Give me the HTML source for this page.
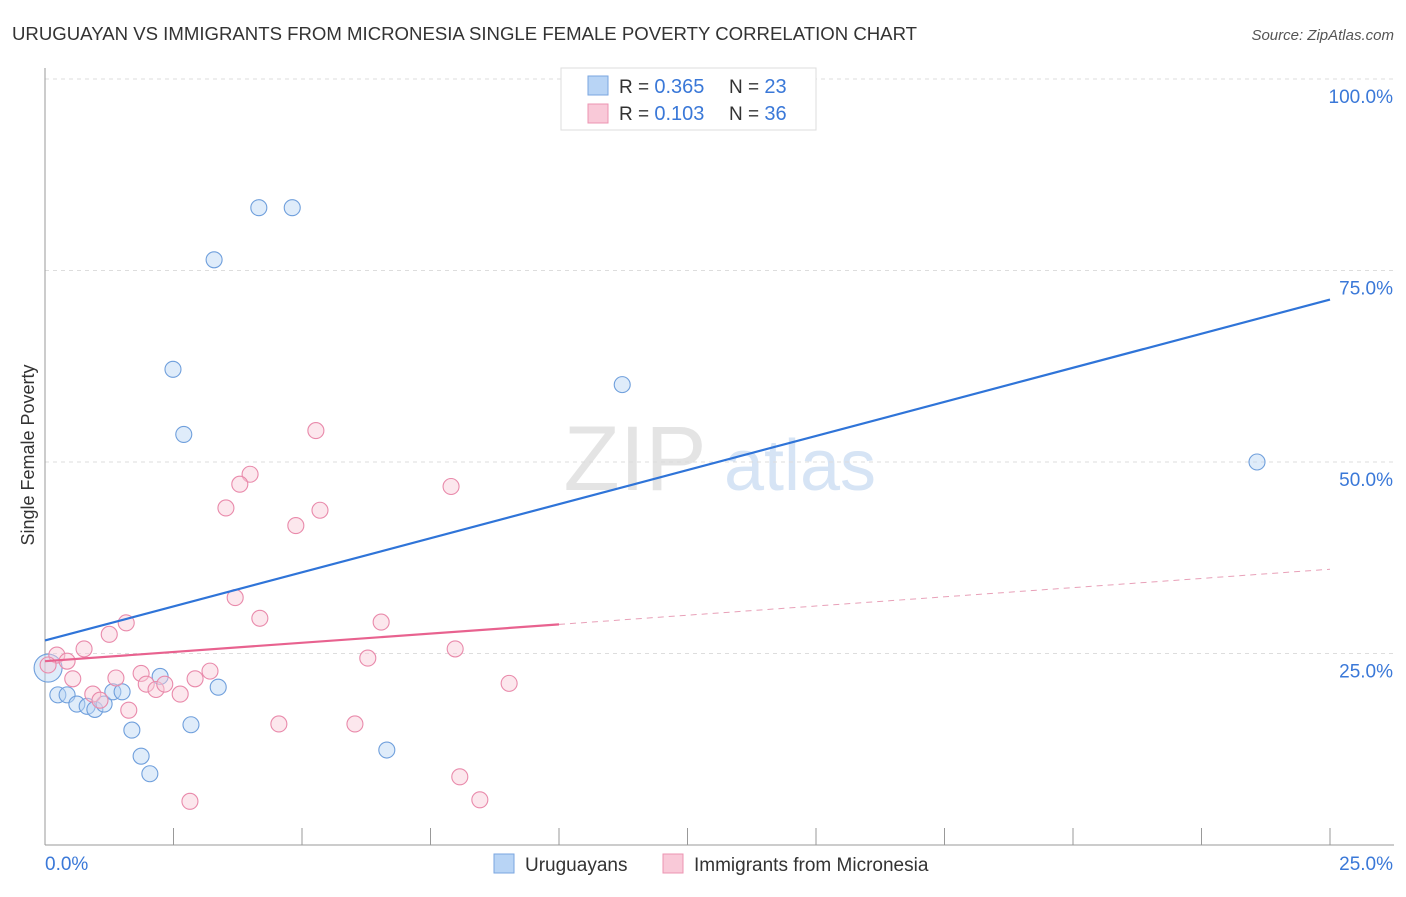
<!DOCTYPE html>
<html><head><meta charset="utf-8"><style>
body{margin:0;background:#fff;font-family:"Liberation Sans",sans-serif;}
svg text{font-family:"Liberation Sans",sans-serif;}
</style></head><body>
<svg id="chart" width="1406" height="892" viewBox="0 0 1406 892">
<text x="12" y="40" font-size="18.6" fill="#333">URUGUAYAN VS IMMIGRANTS FROM MICRONESIA SINGLE FEMALE POVERTY CORRELATION CHART</text>
<text x="1394" y="40" font-size="15" fill="#555" font-style="italic" text-anchor="end">Source: ZipAtlas.com</text>
<text x="34" y="455" font-size="18" fill="#333" transform="rotate(-90 34 455)" text-anchor="middle">Single Female Poverty</text>
<g>
<text x="635" y="490" font-size="92" fill="#e4e4e4" font-family="Liberation Serif" text-anchor="middle">ZIP</text>
<text x="800" y="490" font-size="72" fill="#d6e4f5" text-anchor="middle">atlas</text>
</g>
<g id="grid"></g><g id="axes"></g><g id="marks"></g>
<g>
<rect x="561" y="68" width="255" height="62" fill="#fff" stroke="#ddd"/>
<rect x="588" y="76" width="20" height="19" fill="#b8d4f5" stroke="#7aa6e0"/>
<rect x="588" y="104" width="20" height="19" fill="#f9c9d8" stroke="#ec94b2"/>
<text x="619" y="93" font-size="19" fill="#333">R = <tspan fill="#3a78d8" font-size="20">0.365</tspan></text>
<text x="729" y="93" font-size="19" fill="#333">N = <tspan fill="#3a78d8" font-size="20">23</tspan></text>
<text x="619" y="120" font-size="19" fill="#333">R = <tspan fill="#3a78d8" font-size="20"> 0.103</tspan></text>
<text x="729" y="120" font-size="19" fill="#333">N = <tspan fill="#3a78d8" font-size="20">36</tspan></text>
</g>
<g>
<rect x="494" y="854" width="20" height="19" fill="#b8d4f5" stroke="#7aa6e0"/>
<text x="525" y="871" font-size="19" fill="#333">Uruguayans</text>
<rect x="663" y="854" width="20" height="19" fill="#f9c9d8" stroke="#ec94b2"/>
<text x="694" y="871" font-size="19" fill="#333">Immigrants from Micronesia</text>
</g>
</svg>
<script>
const blueX=[4.16,4.81,3.29,2.49,2.70,11.23,23.58,0.06,0.25,0.43,0.62,0.82,0.97,1.15,1.32,1.50,1.69,1.87,2.04,2.24,2.84,3.37,6.65];
const blueY=[83.2,83.2,76.4,62.1,53.6,60.1,50.0,23.1,19.6,19.6,18.4,18.1,17.7,18.4,20.0,20.0,15.0,11.6,9.3,22.0,15.7,20.6,12.4];
const pinkX=[5.27,3.99,3.79,3.52,4.88,5.35,7.90,3.70,1.58,1.25,0.76,0.23,0.43,0.54,1.38,0.93,1.07,1.63,1.87,1.97,2.16,2.33,2.63,2.92,3.21,4.18,6.54,6.28,7.98,9.03,4.55,6.03,8.07,8.46,2.82,0.06];
const pinkY=[54.1,48.4,47.1,44.0,41.7,43.7,46.8,32.3,29.0,27.5,25.6,24.8,24.0,21.7,21.8,19.7,18.9,17.6,22.4,21.0,20.3,21.0,19.7,21.7,22.7,29.6,29.1,24.4,25.6,21.1,15.8,15.8,8.9,5.9,5.7,23.5];
const yTicks=[25,50,75,100];
const yTickLabels=["25.0%","50.0%","75.0%","100.0%"];
const blueTrend=[26.7,71.2];
const pinkTrend=[24.0,36.0];
const pinkSolidEnd=10;
const NS="http://www.w3.org/2000/svg";
const X0=45,X1=1330,Y0=845,Y100=79;
const sx=v=>X0+(v/25)*(X1-X0);
const sy=v=>Y0-(v/100)*(Y0-Y100);
function mk(tag,attrs,parent){const e=document.createElementNS(NS,tag);for(const k in attrs)e.setAttribute(k,attrs[k]);parent.appendChild(e);return e;}
const grid=document.getElementById('grid'),axes=document.getElementById('axes'),marks=document.getElementById('marks');
yTicks.forEach((t,i)=>{
 const l=mk('line',{x1:X0,x2:1394,y1:sy(t),y2:sy(t),stroke:'#ddd','stroke-dasharray':'4,4'},grid);
 
 
 const tx=mk('text',{x:1393,y:sy(t)+24,'font-size':19,fill:'#3a78d8','text-anchor':'end'},axes);
 tx.textContent=yTickLabels[i];
 
 
});
const ax=mk('line',{x1:X0,x2:X0,y1:68,y2:Y0,stroke:'#999'},axes);


const bx=mk('line',{x1:X0,x2:1394,y1:Y0,y2:Y0,stroke:'#999'},axes);


for(let i=1;i<=10;i++){const t=mk('line',{x1:sx(i*2.5),x2:sx(i*2.5),y1:828,y2:Y0,stroke:'#999'},axes);
 
 }
const l0=mk('text',{x:45,y:870,'font-size':19,fill:'#3a78d8'},axes);l0.textContent='0.0%';


const l1=mk('text',{x:1393,y:870,'font-size':19,fill:'#3a78d8','text-anchor':'end'},axes);l1.textContent='25.0%';


function dot(x,y,r,fill,stroke,name){const c=mk('circle',{cx:sx(x),cy:sy(y),r:r,fill:fill,stroke:stroke,'stroke-width':1.1,'fill-opacity':0.45},marks);
 
 }
blueX.forEach((x,i)=>dot(x,blueY[i],i===7?14:8,'#b8d4f5','#6f9fdc','uruguayan-point'));
pinkX.forEach((x,i)=>dot(x,pinkY[i],8,'#f9c9d8','#e98aab','micronesia-point'));
const bt=mk('line',{x1:sx(0),y1:sy(blueTrend[0]),x2:sx(25),y2:sy(blueTrend[1]),stroke:'#2f74d8','stroke-width':2.2},marks);


const pm=pinkTrend[0]+(pinkTrend[1]-pinkTrend[0])*pinkSolidEnd/25;
const pt=mk('line',{x1:sx(0),y1:sy(pinkTrend[0]),x2:sx(pinkSolidEnd),y2:sy(pm),stroke:'#e8628f','stroke-width':2.2},marks);


const pd=mk('line',{x1:sx(pinkSolidEnd),y1:sy(pm),x2:sx(25),y2:sy(pinkTrend[1]),stroke:'#e8a0b8','stroke-width':1,'stroke-dasharray':'6,5'},marks);


</script>
</body></html>
